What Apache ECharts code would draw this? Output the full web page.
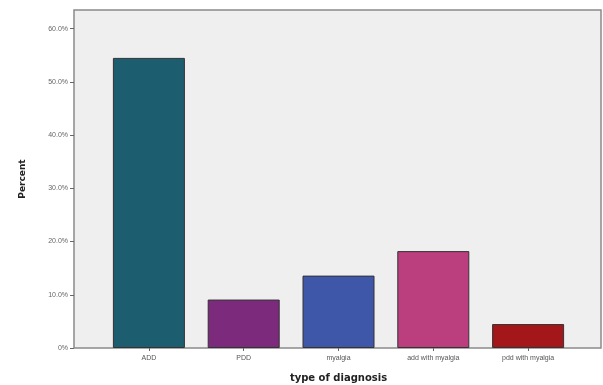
<!DOCTYPE html>
<html><head><meta charset="utf-8">
<script src="https://cdn.jsdelivr.net/npm/echarts@6/dist/echarts.min.js"></script>
<style>html,body{margin:0;padding:0;background:#fff}#c{width:603px;height:385px}</style>
</head><body><div id="c"></div>
<script>
const categories = ['ADD', 'PDD', 'myalgia', 'add with myalgia', 'pdd with myalgia'];
const percents = [54.5, 9.1, 13.6, 18.2, 4.5];
const barColors = ['#1d5d70', '#7b2a7c', '#3e57a9', '#bb3e7e', '#a3171b'];
const yTicks = [0, 10, 20, 30, 40, 50, 60];

const chart = echarts.init(document.getElementById('c'));
const yMax = 63.5;
chart.setOption({
  animation: false,
  grid: [
    {left: 74, top: 10, width: 527, height: 338, outerBoundsMode: 'none', containLabel: false, show: true, backgroundColor: '#efefef', borderColor: '#8a8a8a', borderWidth: 1.5},
    {left: 101.5, top: 10, width: 474, height: 338, outerBoundsMode: 'none', containLabel: false}
  ],
  xAxis: [
    {gridIndex: 0, type: 'value', show: false, min: 0, max: 1},
    {gridIndex: 1, type: 'category', data: categories,
     axisLine: {show: false},
     axisTick: {show: true, alignWithLabel: true, length: 3, lineStyle: {color: '#666'}},
     axisLabel: {fontSize: 7, color: '#555', fontFamily: 'Liberation Sans, Arial', margin: 7},
     name: 'type of diagnosis', nameLocation: 'middle', nameGap: 25,
     nameTextStyle: {fontSize: 10, fontWeight: 'bold', color: '#222', fontFamily: 'DejaVu Sans'}}
  ],
  yAxis: [
    {gridIndex: 0, type: 'value', min: 0, max: yMax,
     axisLine: {show: false},
     axisTick: {show: true, length: 4, customValues: yTicks, lineStyle: {color: '#666'}},
     axisLabel: {fontSize: 7, color: '#666', fontFamily: 'Liberation Sans, Arial', margin: 6, customValues: yTicks,
       formatter: v => v === 0 ? '0%' : v.toFixed(1) + '%'},
     splitLine: {show: false},
     name: 'Percent', nameLocation: 'middle', nameGap: 47, nameRotate: 90,
     nameTextStyle: {fontSize: 9, fontWeight: 'bold', color: '#222', fontFamily: 'DejaVu Sans'}},
    {gridIndex: 1, type: 'value', min: 0, max: yMax, show: false}
  ],
  series: [{
    type: 'bar', xAxisIndex: 1, yAxisIndex: 1,
    barWidth: 72,
    data: percents.map((v, i) => ({value: v, itemStyle: {color: barColors[i]}})),
    itemStyle: {borderColor: '#333', borderWidth: 1}
  }]
});
</script></body></html>
